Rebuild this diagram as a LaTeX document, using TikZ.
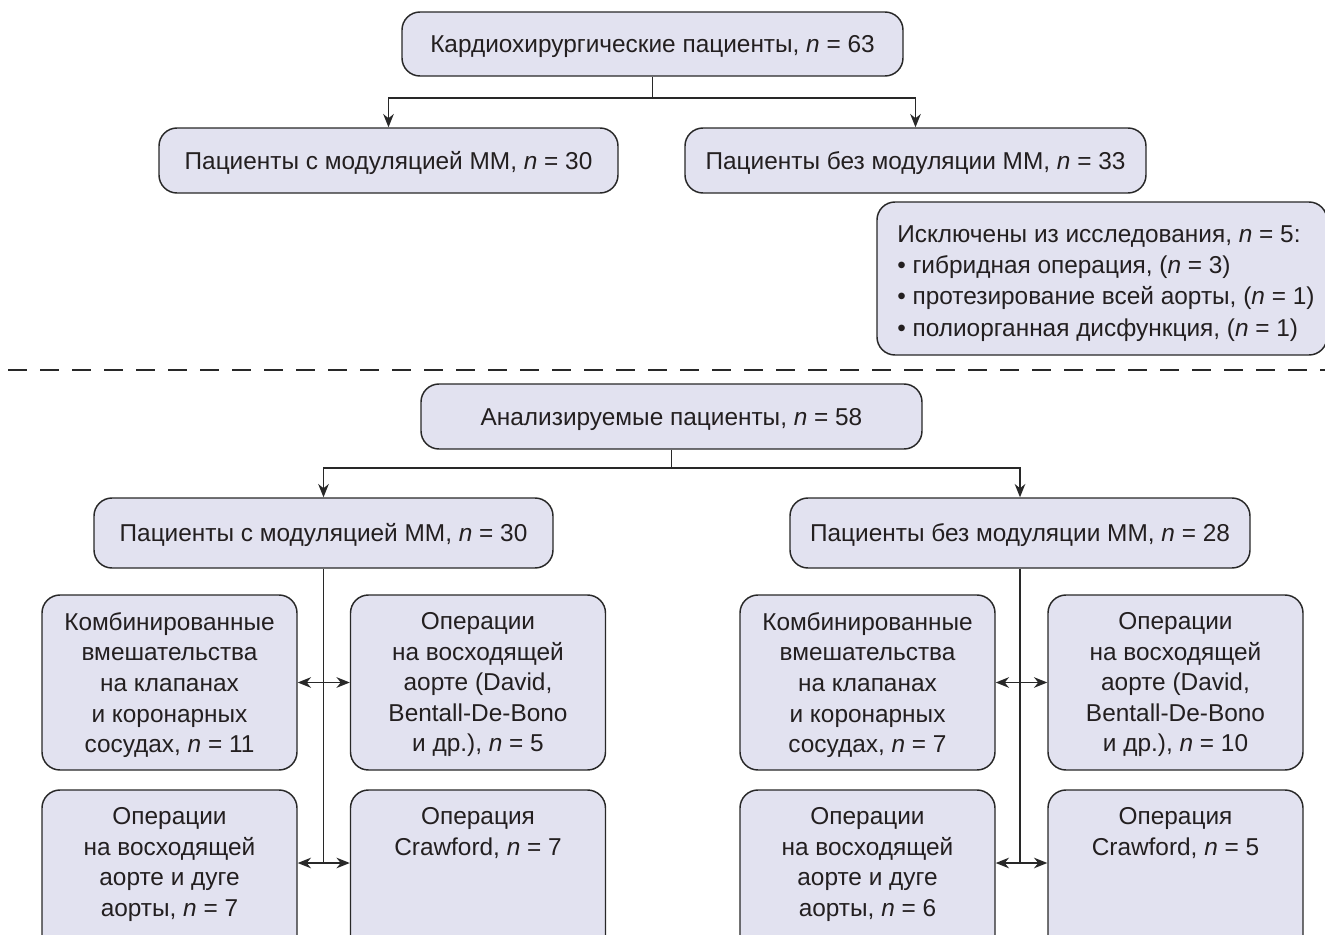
\documentclass[tikz,border=0pt]{standalone}
\usepackage{fontspec}
\setmainfont{Liberation Sans}
\usetikzlibrary{arrows.meta,calc}
\definecolor{boxfill}{RGB}{226,226,240}
\definecolor{ink}{RGB}{35,31,32}
\definecolor{linec}{RGB}{40,40,40}
\tikzset{
  box/.style={draw=linec, line width=1.1pt, fill=boxfill, rounded corners=13.5pt, inner sep=0pt},
  bigbox/.style={box, minimum width=#1, minimum height=48.75pt, font=\fontsize{18.3pt}{22.9pt}\selectfont, text=ink, text height=13.2pt, text depth=0pt},
  smallbox/.style={box, minimum width=191.25pt, minimum height=131.25pt},
  boxtext/.style={inner sep=0pt, align=center, text=ink, font=\fontsize{18.3pt}{22.9pt}\selectfont},
  listtext/.style={inner sep=0pt, align=left, text=ink, font=\fontsize{18.3pt}{23.4pt}\selectfont},
  conn/.style={draw=linec, line width=1.1pt},
  arr/.style={conn, -{Stealth[length=10pt,width=8pt]}},
  dbl/.style={conn, {Stealth[length=10pt,width=8pt]}-{Stealth[length=10pt,width=8pt]}},
  sep/.style={draw=linec, line width=1.6pt, dash pattern=on 14pt off 10pt},
}
\begin{document}
\begin{tikzpicture}[x=0.75pt,y=-0.75pt]
\useasboundingbox (0,0) rectangle (1325,935);
\clip (0,0) rectangle (1325,935);

% upper part
\node[bigbox=375.75pt, minimum height=48pt] (top) at (652.5,44) {Кардиохирургические пациенты, \textit{n} = 63};
\node[bigbox=344.25pt] (L1) at (388.5,160.5) {Пациенты с модуляцией ММ, \textit{n} = 30};
\node[bigbox=345.75pt] (R1) at (915.5,160.5) {Пациенты без модуляции ММ, \textit{n} = 33};
\coordinate (j1) at (652.5,98);
\draw[conn] (top.south) -- (j1);
\draw[arr] (j1) -| (L1.north);
\draw[arr] (j1) -| (R1.north);

\node[box, minimum width=337.5pt, minimum height=114.75pt] (excl) at (1102,278.5) {};
\node[listtext, anchor=west] (excltext) at (897,283.5) {Исключены из исследования, \textit{n} = 5:\\
• гибридная операция, (\textit{n} = 3)\\
• протезирование всей аорты, (\textit{n} = 1)\\
• полиорганная дисфункция, (\textit{n} = 1)};

% separator
\coordinate (s1) at (8,370);
\coordinate (s2) at (1325,370);
\draw[sep] (s1) -- (s2);

% lower part
\node[bigbox=375.75pt] (an) at (671.5,416.5) {Анализируемые пациенты, \textit{n} = 58};
\node[bigbox=344.25pt, minimum height=52.5pt] (L2) at (323.5,533) {Пациенты с модуляцией ММ, \textit{n} = 30};
\node[bigbox=345pt, minimum height=52.5pt] (R2) at (1020,533) {Пациенты без модуляции ММ, \textit{n} = 28};
\coordinate (j2) at (671.5,468);
\draw[conn] (an.south) -- (j2);
\draw[arr] (j2) -| (L2.north);
\draw[arr] (j2) -| (R2.north);

% left group
\node[smallbox] (A) at (169.5,682.5) {};
\node[smallbox] (B) at (478,682.5) {};
\node[smallbox] (C) at (169.5,877.5) {};
\node[smallbox] (D) at (478,877.5) {};
\node[boxtext, anchor=north] (At) at ([yshift=-13.5pt]A.north) {Комбинированные\\вмешательства\\на клапанах\\и коронарных\\сосудах, \textit{n} = 11};
\node[boxtext, anchor=north] (Bt) at ([yshift=-13.5pt]B.north) {Операции\\на восходящей\\аорте (David,\\Bentall-De-Bono\\и др.), \textit{n} = 5};
\node[boxtext, anchor=north] (Ct) at ([yshift=-13.5pt]C.north) {Операции\\на восходящей\\аорте и дуге\\аорты, \textit{n} = 7};
\node[boxtext, anchor=north] (Dt) at ([yshift=-13.5pt]D.north) {Операция\\Crawford, \textit{n} = 7};
\coordinate (vL) at (323.5,863);
\draw[conn] (L2.south) -- (vL);
\draw[dbl] (A.east) -- (B.west);
\draw[dbl] (vL -| C.east) -- (vL -| D.west);

% right group
\node[smallbox] (E) at (867.5,682.5) {};
\node[smallbox] (F) at (1175.5,682.5) {};
\node[smallbox] (G) at (867.5,877.5) {};
\node[smallbox] (H) at (1175.5,877.5) {};
\node[boxtext, anchor=north] (Et) at ([yshift=-13.5pt]E.north) {Комбинированные\\вмешательства\\на клапанах\\и коронарных\\сосудах, \textit{n} = 7};
\node[boxtext, anchor=north] (Ft) at ([yshift=-13.5pt]F.north) {Операции\\на восходящей\\аорте (David,\\Bentall-De-Bono\\и др.), \textit{n} = 10};
\node[boxtext, anchor=north] (Gt) at ([yshift=-13.5pt]G.north) {Операции\\на восходящей\\аорте и дуге\\аорты, \textit{n} = 6};
\node[boxtext, anchor=north] (Ht) at ([yshift=-13.5pt]H.north) {Операция\\Crawford, \textit{n} = 5};
\coordinate (vR) at (1020,863);
\draw[conn] (R2.south) -- (vR);
\draw[dbl] (E.east) -- (F.west);
\draw[dbl] (vR -| G.east) -- (vR -| H.west);
\end{tikzpicture}
\end{document}
